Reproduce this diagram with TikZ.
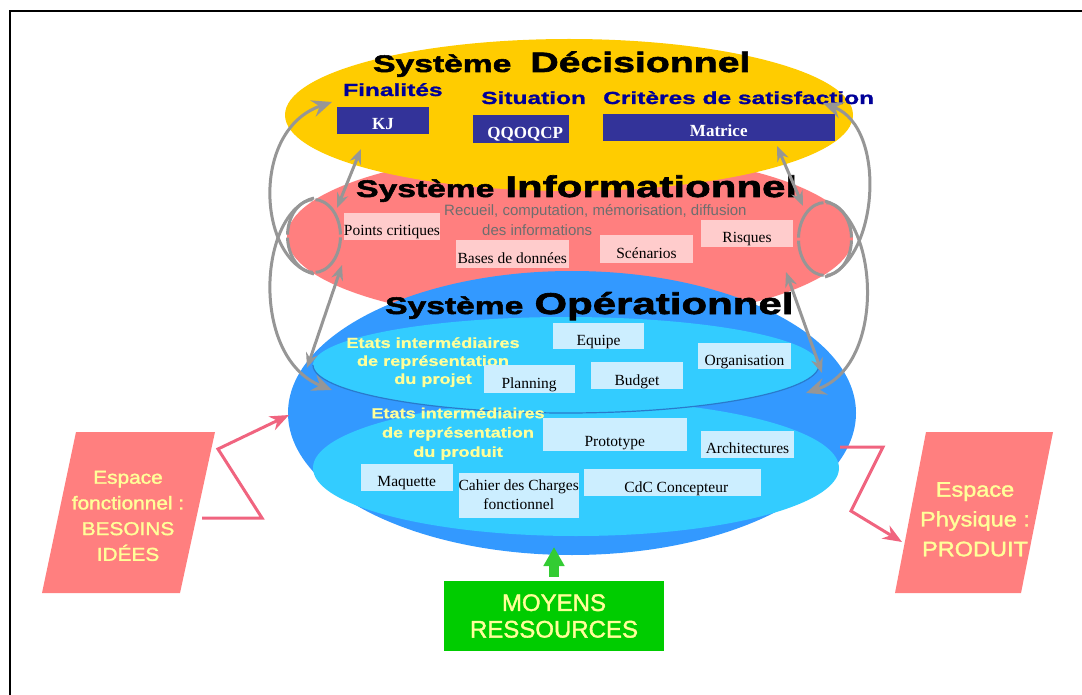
\documentclass[tikz,border=0pt]{standalone}
\usepackage{fontspec}
\setmainfont{Liberation Serif}
\setsansfont{Liberation Sans}
\newfontfamily\widesf[FakeStretch=1.4,BoldFeatures={FakeBold=2.2}]{Liberation Sans}
\newfontfamily\labelsf[FakeStretch=1.4,BoldFeatures={FakeBold=1.2}]{Liberation Sans}
\newfontfamily\semisf[FakeStretch=1.25,BoldFeatures={FakeBold=0.8}]{Liberation Sans}
\newfontfamily\espsf[FakeStretch=1.12,FakeBold=1.6]{Liberation Sans}
\newfontfamily\moysf[FakeBold=1.6]{Liberation Sans}
\usetikzlibrary{arrows.meta,shapes.geometric}
\definecolor{decis}{HTML}{FFCC00}
\definecolor{inform}{HTML}{FF7F7F}
\definecolor{operat}{HTML}{3399FF}
\definecolor{etats}{HTML}{33CCFF}
\definecolor{navybox}{HTML}{333399}
\definecolor{navytxt}{HTML}{000099}
\definecolor{palepink}{HTML}{FFCCCC}
\definecolor{paleblue}{HTML}{CCEEFF}
\definecolor{softyellow}{HTML}{FFFF99}
\definecolor{moyens}{HTML}{00CC00}
\definecolor{moyarrow}{HTML}{33CC33}
\definecolor{loopgray}{HTML}{969696}
\definecolor{zigpink}{HTML}{F0647F}
\definecolor{recueil}{HTML}{6E6E6E}

\begin{document}
\begin{tikzpicture}[x=1pt, y=-1pt, every node/.style={inner sep=0pt},
    systitle/.style={font=\widesf\bfseries\fontsize{30}{32}\selectfont, anchor=base west},
    sublabel/.style={font=\labelsf\bfseries\fontsize{17.5}{20}\selectfont, text=navytxt, anchor=base west},
    darkbox/.style={fill=navybox, text=white, font=\bfseries\fontsize{17}{19}\selectfont, text depth=4pt},
    pinkbox/.style={fill=palepink, font=\fontsize{15.5}{19}\selectfont, text depth=4pt},
    bluebox/.style={fill=paleblue, font=\fontsize{15.5}{19}\selectfont, text depth=4pt},
    etat/.style={font=\semisf\bfseries\fontsize{14.5}{18}\selectfont, text=softyellow, align=center, anchor=north},
    espace/.style={font=\espsf\fontsize{18.6}{25.7}\selectfont, text=softyellow, align=center, anchor=north},
    ring/.style={ellipse, draw=loopgray, line width=3pt, minimum width=53pt, minimum height=73pt,
      dash pattern=on 46.8pt off 3pt, dash phase=48.3pt},
    bigloop/.style={draw=loopgray, line width=3pt, -{Stealth[length=20pt,width=17pt,inset=7pt]}},
    duo/.style={draw=loopgray, line width=3pt,
      {Stealth[length=15pt,width=12pt,inset=5pt]}-{Stealth[length=15pt,width=12pt,inset=5pt]}},
    zig/.style={draw=zigpink, line width=3pt, -{Stealth[length=19pt,width=15pt,inset=6pt]}}]
  \useasboundingbox (0,0) rectangle (1082,695);
  \draw[line width=2pt] (1100,11) -- (10,11) -- (10,710);

  % the three systems
  \fill[inform] (570,237) ellipse [x radius=283pt, y radius=86pt];
  \fill[decis] (569,115) ellipse [x radius=284pt, y radius=76pt];
  \fill[operat] (572,413) ellipse [x radius=284pt, y radius=142pt];
  \fill[etats] (576,468) ellipse [x radius=263pt, y radius=68pt];
  \fill[etats] (566,365) ellipse [x radius=253pt, y radius=48pt];
  \draw[operat!80!black, line width=1.2pt] (819,365) arc [start angle=0, end angle=-180, x radius=253pt, y radius=48pt];

  \node[systitle] (tdec) at (373,72) {{\fontsize{24}{26}\selectfont Système}\hspace{19pt}{\fontsize{28}{30}\selectfont Décisionnel}};
  \node[systitle] (tinf) at (356,197) {{\fontsize{24}{26}\selectfont Système}\hspace{11pt}Informationnel};
  \node[systitle] (tope) at (385,314) {{\fontsize{24}{26}\selectfont Système}\hspace{11pt}Opérationnel};

  % decisionnel
  \node[sublabel] (fin) at (343,96) {Finalités};
  \node[sublabel] (sit) at (481,104) {Situation};
  \node[sublabel] (crit) at (603,104) {Critères de satisfaction};
  \node[darkbox, minimum width=92pt, text height=23pt] (kj) at (383,120.5) {KJ};
  \node[darkbox, minimum width=95.5pt, text height=23.7pt] (qqoqcp) at (520.75,128.85) {\hspace*{9pt}QQOQCP};
  \node[darkbox, minimum width=231.5pt, text height=22.7pt] (matrice) at (718.75,127.35) {Matrice};

  % informationnel
  \node[font=\sffamily\fontsize{15}{18}\selectfont, text=recueil, anchor=base west] (rec1) at (444,216)
    {Recueil, computation, mémorisation, diffusion};
  \node[font=\sffamily\fontsize{15}{18}\selectfont, text=recueil, anchor=base west] (rec2) at (482,236)
    {des informations};
  \node[pinkbox, minimum width=92pt, text height=23pt] (pcrit) at (392,226.5) {Points critiques};
  \node[pinkbox, minimum width=112.5pt, text height=23.7pt] (bases) at (512.25,253.85) {Bases de données};
  \node[pinkbox, minimum width=93pt, text height=23.7pt] (scen) at (646.5,248.85) {Scénarios};
  \node[pinkbox, minimum width=92pt, text height=22.7pt] (risq) at (747,233.35) {Risques};

  % operationnel
  \node[etat] (eproj) at (433,337.1) {Etats intermédiaires\\de représentation\\du projet};
  \node[etat, font=\semisf\bfseries\fontsize{14.5}{19.3}\selectfont] (eprod) at (458,407.4)
    {Etats intermédiaires\\de représentation\\du produit};
  \node[bluebox, minimum width=91pt, text height=22pt] (equipe) at (598.5,336) {Equipe};
  \node[bluebox, minimum width=93pt, text height=22pt] (organ) at (744.5,356) {Organisation};
  \node[bluebox, minimum width=91pt, text height=23.7pt] (plan) at (529.1,378.85) {Planning};
  \node[bluebox, minimum width=92pt, text height=23pt] (budget) at (637,375.5) {Budget};
  \node[bluebox, minimum width=144.5pt, text height=28.7pt] (proto) at (614.75,434.35) {Prototype};
  \node[bluebox, minimum width=93pt, text height=22.7pt] (archi) at (747.5,444.35) {Architectures};
  \node[bluebox, minimum width=91.5pt, text height=22.7pt] (maq) at (406.75,477.35) {Maquette};
  \node[bluebox, minimum width=117.5pt, minimum height=45pt, text depth=0pt, align=center] (cahier) at (518.75,495)
    {Cahier des Charges\\fonctionnel};
  \node[bluebox, minimum width=177.4pt, text height=23pt] (cdc) at (672.3,482.5) {\hspace*{8pt}CdC Concepteur};

  % loops between the systems
  \node[ring] (ringL) at (314,236) {};
  \node[ring] (ringR) at (825,239) {};
  \coordinate (hFin) at (332,102);
  \coordinate (hOpL) at (332,390);
  \coordinate (hCrit) at (823,103);
  \coordinate (hOpR) at (806,393);
  \draw[bigloop] (ringL.south) .. controls (258,260) and (250,130) .. (hFin);
  \draw[bigloop] (ringL.north) .. controls (258,212) and (250,358) .. (hOpL);
  \draw[bigloop] (ringR.south) .. controls (878,262) and (888,128) .. (hCrit);
  \draw[bigloop] (ringR.north) .. controls (878,215) and (888,365) .. (hOpR);
  \coordinate (dl1) at (361,149); \coordinate (dl2) at (337,208);
  \coordinate (dl3) at (342,265); \coordinate (dl4) at (307,368);
  \coordinate (dr1) at (777,146); \coordinate (dr2) at (803,206);
  \coordinate (dr3) at (786,272); \coordinate (dr4) at (822,373);
  \draw[duo] (dl1) -- (dl2); \draw[duo] (dl3) -- (dl4);
  \draw[duo] (dr1) -- (dr2); \draw[duo] (dr3) -- (dr4);

  % espaces
  \fill[inform] (76,432) -- (215,432) -- (180,593) -- (42,593) -- cycle;
  \fill[inform] (926,432) -- (1053,432) -- (1021,593) -- (895,593) -- cycle;
  \node[espace] (espF) at (128,470.7) {Espace\\fonctionnel :\\BESOINS\\IDÉES};
  \node[espace, font=\espsf\fontsize{21}{29.8}\selectfont] (espP) at (975,482) {Espace\\Physique :\\PRODUIT};
  \coordinate (zL0) at (202,518); \coordinate (zL1) at (262,518);
  \coordinate (zL2) at (218,449); \coordinate (zL3) at (289,415);
  \coordinate (zR0) at (840,447); \coordinate (zR1) at (883,447);
  \coordinate (zR2) at (851,511); \coordinate (zR3) at (902,542);
  \draw[zig] (zL0) -- (zL1) -- (zL2) -- (zL3);
  \draw[zig] (zR0) -- (zR1) -- (zR2) -- (zR3);

  % moyens
  \node[fill=moyens, minimum width=220pt, minimum height=70pt, text=softyellow, align=center,
    font=\moysf\fontsize{24}{26.6}\selectfont] (moy) at (554,616) {MOYENS\\RESSOURCES};
  \coordinate (tipG) at (554,547);
  \draw[moyarrow, line width=10pt, -{Triangle[length=19pt,width=20pt]}] ([yshift=4pt]moy.north) -- (tipG);
\end{tikzpicture}
\end{document}
